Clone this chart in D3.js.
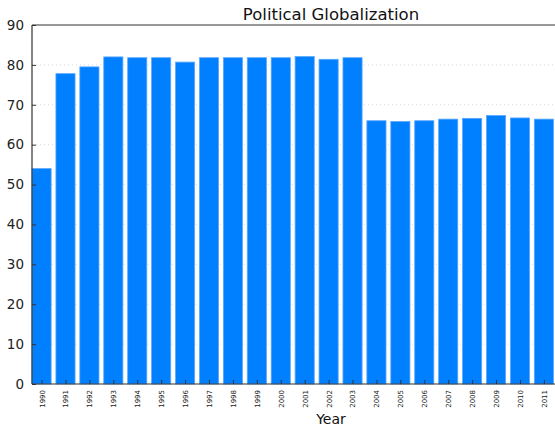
<!DOCTYPE html>
<html>
<head>
<meta charset="utf-8">
<script src="https://cdn.jsdelivr.net/npm/d3@7"></script>
<style>
  html, body { margin: 0; padding: 0; background: #fff; }
  svg { display: block; }
</style>
</head>
<body>
<svg id="chart" width="555" height="427"></svg>
<script>
// Political globalization index by year
const years = [1990, 1991, 1992, 1993, 1994, 1995, 1996, 1997, 1998, 1999, 2000,
               2001, 2002, 2003, 2004, 2005, 2006, 2007, 2008, 2009, 2010, 2011];
const values = [54.0, 77.8, 79.5, 82.0, 81.8, 81.8, 80.7, 81.8, 81.8, 81.8, 81.8,
                82.1, 81.4, 81.8, 66.0, 65.8, 66.0, 66.4, 66.6, 67.3, 66.7, 66.4];
const yTicks = [0, 10, 20, 30, 40, 50, 60, 70, 80, 90];

const svg = d3.select("#chart");
const margin = { left: 32, top: 25, bottom: 43 };
const plotW = 598;               // axes extend past the right edge of the canvas
const plotH = 427 - margin.top - margin.bottom;

const x = d3.scaleLinear().domain([0, 25]).range([margin.left, margin.left + plotW]);
const y = d3.scaleLinear().domain([0, 90]).range([margin.top + plotH, margin.top]);
const barW = 0.8;

// dotted grid
svg.append("g").selectAll("line").data(yTicks.slice(1, -1)).join("line")
  .attr("x1", margin.left).attr("x2", margin.left + plotW)
  .attr("y1", d => y(d)).attr("y2", d => y(d))
  .attr("stroke", "#d8d8d8").attr("stroke-width", 1)
  .attr("stroke-dasharray", "1,3");

// bars
svg.append("g").selectAll("rect").data(values).join("rect")
  .attr("x", (d, i) => x(i))
  .attr("width", x(barW) - x(0))
  .attr("y", d => y(d))
  .attr("height", d => y(0) - y(d))
  .attr("fill", "#007fff")
  .attr("stroke", "#5aa8ff")
  .attr("stroke-width", 0.8);

// y axis with inward ticks
const yAxis = d3.axisLeft(y).tickValues(yTicks).tickSize(-4).tickPadding(8).tickFormat(d3.format("d"));
const gy = svg.append("g").attr("transform", `translate(${margin.left},0)`).call(yAxis);
gy.select(".domain").remove();
gy.selectAll(".tick line").attr("stroke", "#333");
gy.selectAll("text").attr("font-family", "DejaVu Sans").attr("font-size", 13.5).attr("fill", "#222");

// x axis: inward ticks at bar centres, rotated labels
const xAxis = d3.axisBottom(x).tickValues(years.map((d, i) => i + barW / 2))
  .tickSize(-4).tickPadding(0).tickFormat((d, i) => years[i]);
const gx = svg.append("g").attr("transform", `translate(0,${y(0)})`).call(xAxis);
gx.select(".domain").remove();
gx.selectAll(".tick line").attr("stroke", "#333");
gx.selectAll("text")
  .attr("font-family", "DejaVu Sans").attr("font-size", 7).attr("fill", "#222")
  .attr("transform", "rotate(-90)")
  .attr("text-anchor", "end")
  .attr("x", -6).attr("y", 0).attr("dy", "0.35em");

// spines
const frame = svg.append("g").attr("stroke", "#333").attr("stroke-width", 1.2).attr("fill", "none");
frame.append("line").attr("x1", margin.left).attr("x2", margin.left)
  .attr("y1", y(0)).attr("y2", y(90));
frame.append("line").attr("x1", margin.left).attr("x2", margin.left + plotW)
  .attr("y1", y(0)).attr("y2", y(0));
frame.append("line").attr("x1", margin.left).attr("x2", margin.left + plotW)
  .attr("y1", y(90)).attr("y2", y(90));

// title and axis label
svg.append("text").attr("x", margin.left + plotW / 2).attr("y", 20)
  .attr("text-anchor", "middle").attr("font-family", "DejaVu Sans").attr("font-size", 16.5)
  .attr("fill", "#111").text("Political Globalization");
svg.append("text").attr("x", 331).attr("y", 424)
  .attr("text-anchor", "middle").attr("font-family", "DejaVu Sans").attr("font-size", 14)
  .attr("fill", "#111").text("Year");
</script>
</body>
</html>
